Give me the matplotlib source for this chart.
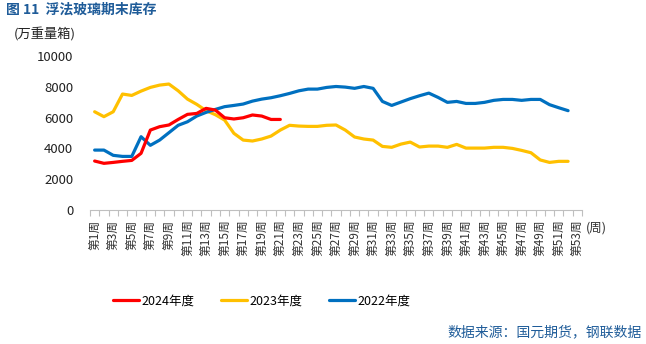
import matplotlib
matplotlib.use("Agg")
import matplotlib.pyplot as plt
from matplotlib.ticker import FixedLocator

plt.rcParams['font.family'] = ['Noto Sans CJK SC', 'DejaVu Sans']

weeks = list(range(1, 54))
week_labels = [f"第{w}周" if w % 2 == 1 else "" for w in weeks]

y2024 = [3180, 3030, 3090, 3160, 3220, 3680, 5190, 5410, 5520, 5880,
         6210, 6270, 6600, 6490, 5990, 5910, 5990, 6170, 6100, 5880, 5880]
y2023 = [6380, 6060, 6380, 7530, 7440, 7720, 7960, 8110, 8180, 7740,
         7200, 6860, 6450, 6190, 5840, 4980, 4540, 4480, 4610, 4800,
         5190, 5500, 5450, 5430, 5430, 5500, 5520, 5190, 4740, 4610,
         4540, 4130, 4070, 4280, 4410, 4090, 4150, 4150, 4070, 4260,
         4020, 4020, 4020, 4070, 4070, 4000, 3870, 3720, 3250, 3090,
         3160, 3160]
y2022 = [3890, 3890, 3550, 3480, 3480, 4760, 4200, 4540, 5020, 5500,
         5730, 6100, 6340, 6530, 6710, 6790, 6880, 7070, 7200, 7290,
         7420, 7570, 7740, 7850, 7850, 7960, 8020, 7980, 7900, 8020,
         7900, 7050, 6790, 7010, 7230, 7420, 7590, 7310, 6990, 7050,
         6920, 6920, 6990, 7120, 7180, 7180, 7120, 7180, 7180, 6840,
         6640, 6450]
yticks = [0, 2000, 4000, 6000, 8000, 10000]

W, H = 646, 344
fig = plt.figure(figsize=(W / 100, H / 100), dpi=100)
ax = fig.add_axes([90 / W, (H - 210) / H, 492 / W, 154 / H])

lw = 2.3
l1, = ax.plot(weeks[:len(y2024)], y2024, color='#FF0000', lw=lw, label='2024年度', solid_capstyle='round')
l2, = ax.plot(weeks[:len(y2023)], y2023, color='#FFC000', lw=lw, label='2023年度', solid_capstyle='round')
l3, = ax.plot(weeks[:len(y2022)], y2022, color='#0070C0', lw=lw, label='2022年度', solid_capstyle='round')
l1.set_zorder(4); l2.set_zorder(3); l3.set_zorder(3.5)

ax.set_xlim(0.5, 53.5)
ax.set_ylim(0, 10000)
ax.set_yticks(yticks)
ax.set_yticklabels([str(v) for v in yticks], fontsize=9.5, color='#222222')
ax.tick_params(axis='y', length=0, pad=12)

ax.set_xticks(weeks)
ax.set_xticklabels(week_labels, rotation=90, fontsize=8.5, color='#333333', va='top')
ax.tick_params(axis='x', which='major', length=0, pad=7)
ax.xaxis.set_minor_locator(FixedLocator([w + 0.5 for w in range(0, 54)]))
ax.tick_params(axis='x', which='minor', length=4, color='#BFBFBF', width=0.8)

for s in ['top', 'right', 'left']:
    ax.spines[s].set_visible(False)
ax.spines['bottom'].set_color('#BFBFBF')
ax.spines['bottom'].set_linewidth(0.8)

fig.text(6 / W, 1 - 10 / H, '图 11  浮法玻璃期末库存', fontsize=10, color='#1F5C99',
         fontweight='bold', va='center', ha='left')
fig.text(14 / W, 1 - 35 / H, '(万重量箱)', fontsize=9.5, color='#222222', va='center', ha='left')
fig.text(586 / W, 1 - 228 / H, '(周)', fontsize=9, color='#333333', va='center', ha='left')
fig.text(642 / W, 1 - 332 / H, '数据来源：国元期货，钢联数据', fontsize=10, color='#1F5C99',
         va='center', ha='right')

fig.legend(handles=[l1, l2, l3], loc='center left', bbox_to_anchor=(113 / W, 1 - 301 / H),
           ncol=3, frameon=False, fontsize=9, handlelength=2.1, handletextpad=0.2,
           columnspacing=2.1, borderpad=0, borderaxespad=0)

fig.savefig('out.png', dpi=100)
